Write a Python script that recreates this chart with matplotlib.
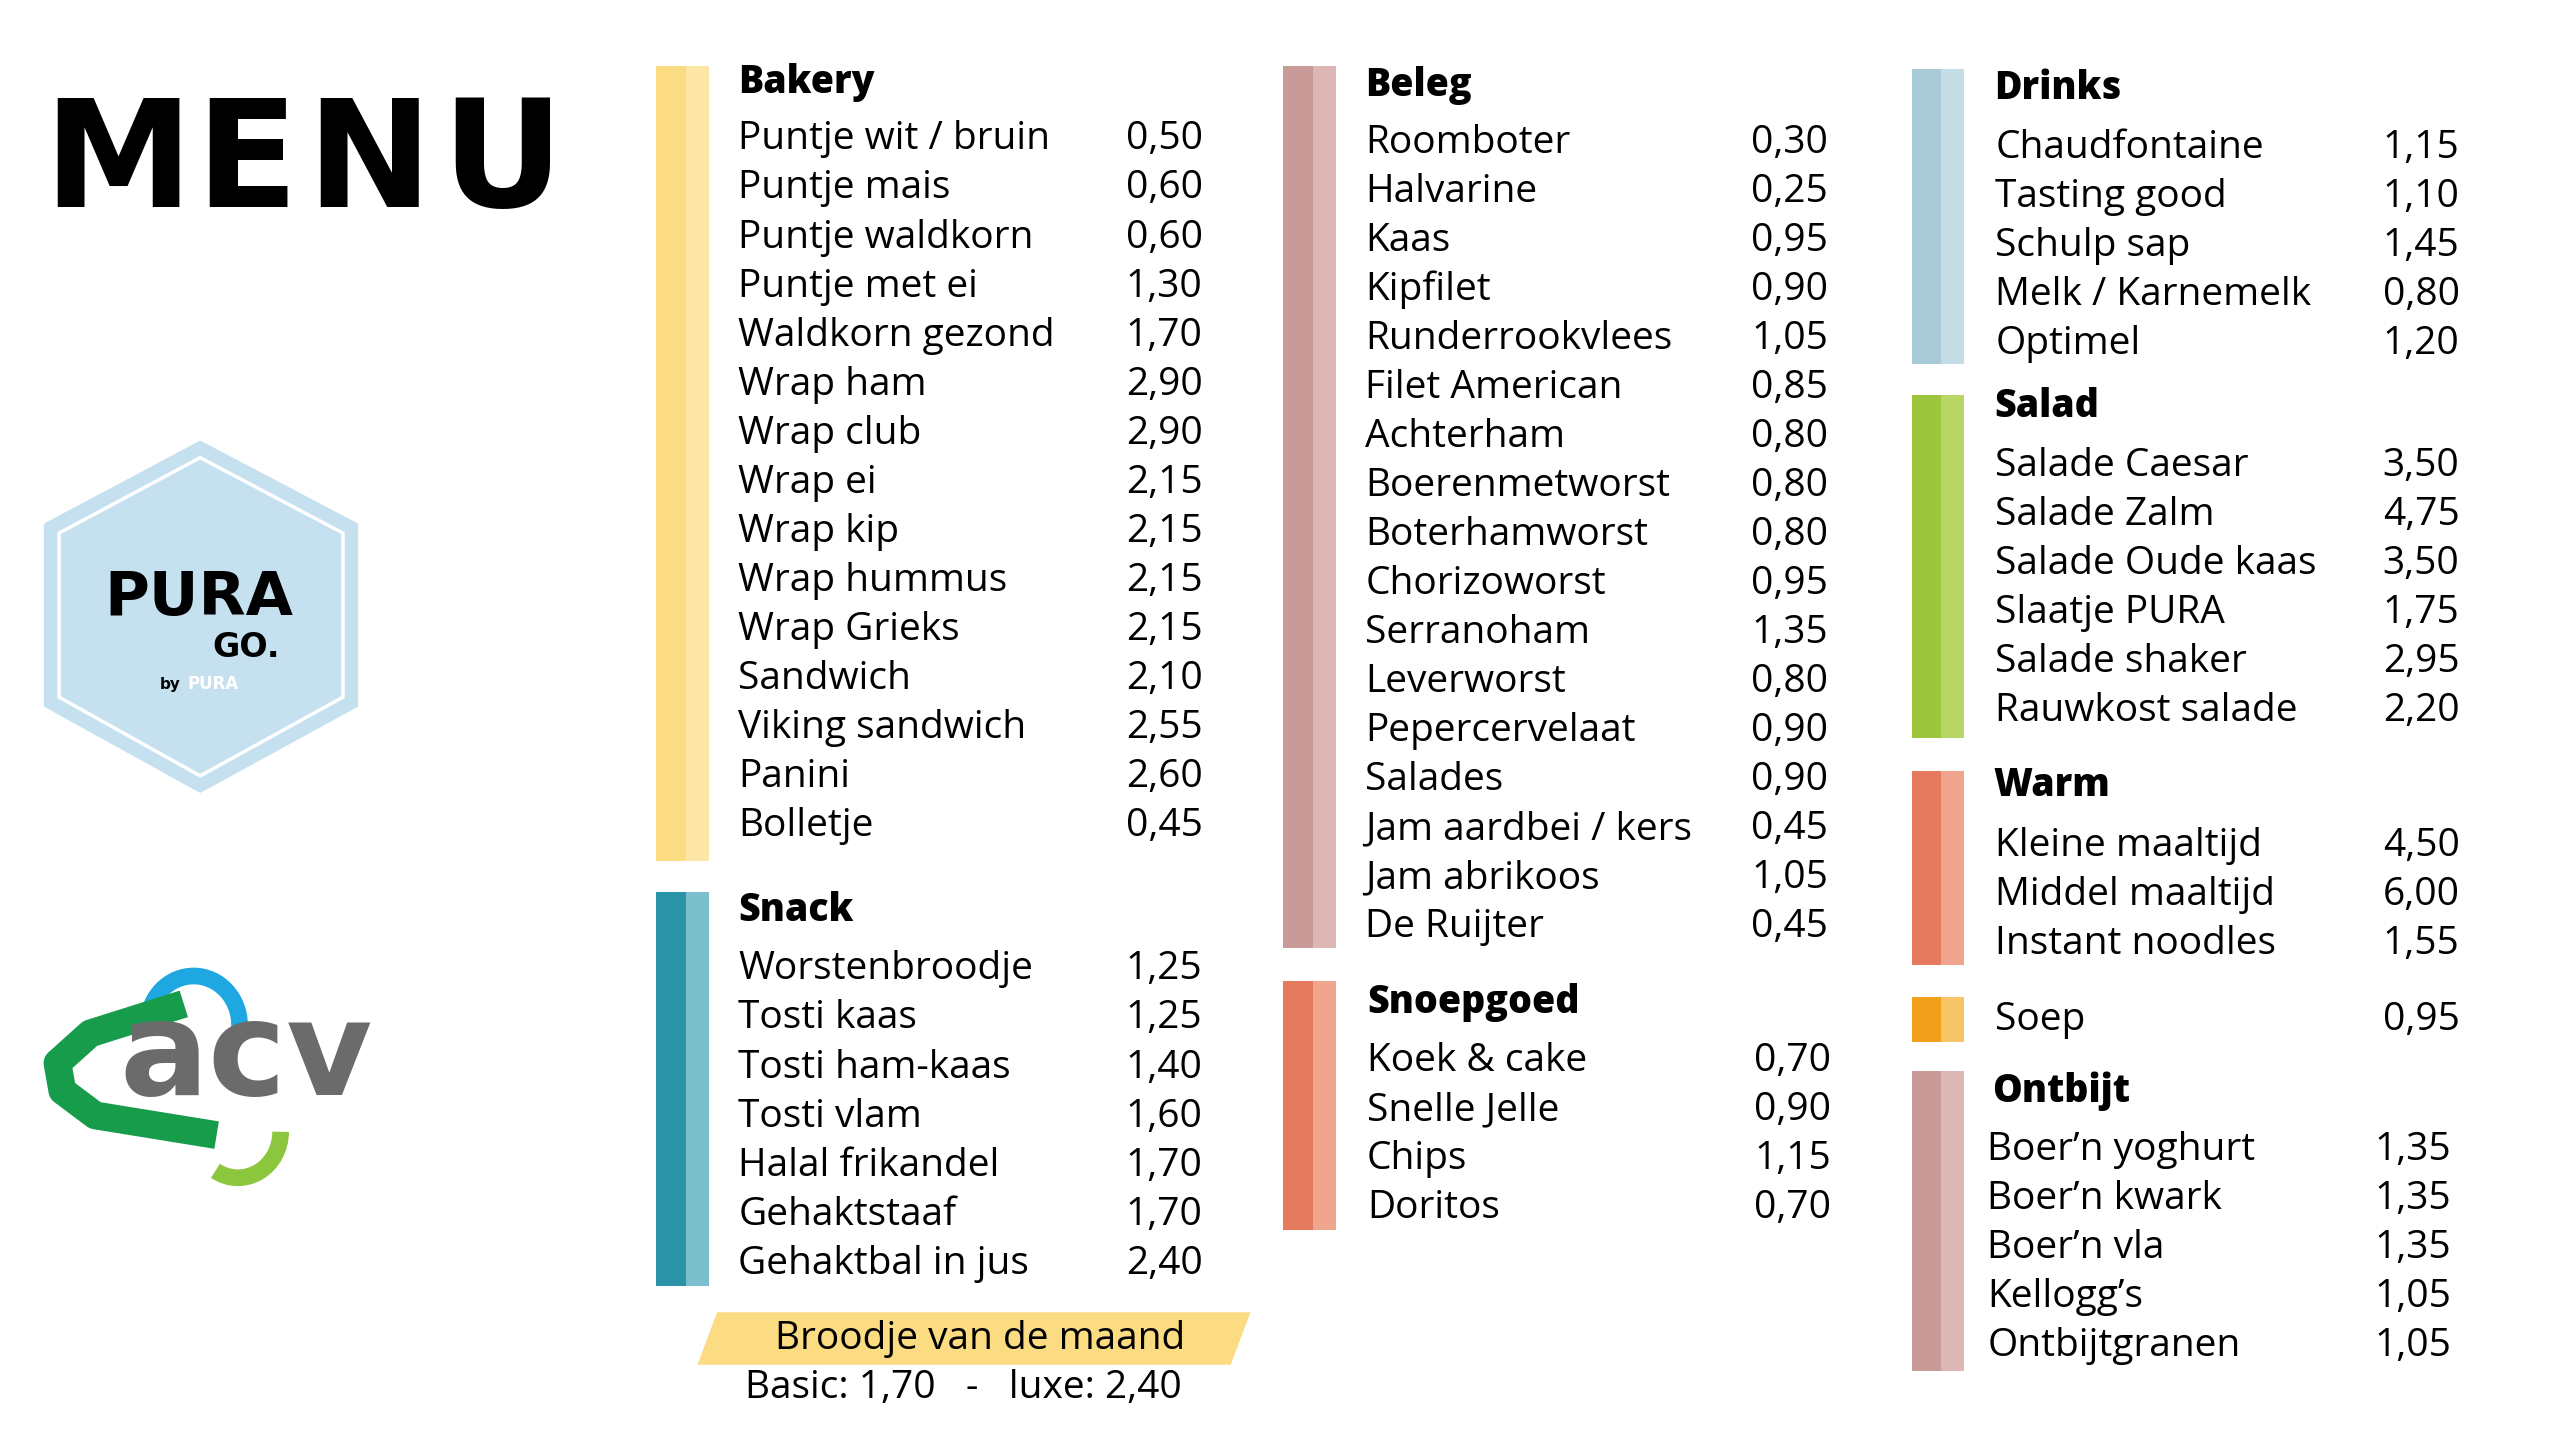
import matplotlib
matplotlib.use("Agg")
from matplotlib import pyplot as plt
from matplotlib.patches import Polygon, Rectangle, Arc

bakery_items = ["Puntje wit / bruin", "Puntje mais", "Puntje waldkorn", "Puntje met ei",
                "Waldkorn gezond", "Wrap ham", "Wrap club", "Wrap ei", "Wrap kip",
                "Wrap hummus", "Wrap Grieks", "Sandwich", "Viking sandwich", "Panini", "Bolletje"]
bakery_prices = ["0,50", "0,60", "0,60", "1,30", "1,70", "2,90", "2,90", "2,15", "2,15",
                 "2,15", "2,15", "2,10", "2,55", "2,60", "0,45"]
snack_items = ["Worstenbroodje", "Tosti kaas", "Tosti ham-kaas", "Tosti vlam",
               "Halal frikandel", "Gehaktstaaf", "Gehaktbal in jus"]
snack_prices = ["1,25", "1,25", "1,40", "1,60", "1,70", "1,70", "2,40"]
beleg_items = ["Roomboter", "Halvarine", "Kaas", "Kipfilet", "Runderrookvlees", "Filet American",
               "Achterham", "Boerenmetworst", "Boterhamworst", "Chorizoworst", "Serranoham",
               "Leverworst", "Pepercervelaat", "Salades", "Jam aardbei / kers", "Jam abrikoos",
               "De Ruijter"]
beleg_prices = ["0,30", "0,25", "0,95", "0,90", "1,05", "0,85", "0,80", "0,80", "0,80", "0,95",
                "1,35", "0,80", "0,90", "0,90", "0,45", "1,05", "0,45"]
snoep_items = ["Koek & cake", "Snelle Jelle", "Chips", "Doritos"]
snoep_prices = ["0,70", "0,90", "1,15", "0,70"]
drinks_items = ["Chaudfontaine", "Tasting good", "Schulp sap", "Melk / Karnemelk", "Optimel"]
drinks_prices = ["1,15", "1,10", "1,45", "0,80", "1,20"]
salad_items = ["Salade Caesar", "Salade Zalm", "Salade Oude kaas", "Slaatje PURA",
               "Salade shaker", "Rauwkost salade"]
salad_prices = ["3,50", "4,75", "3,50", "1,75", "2,95", "2,20"]
warm_items = ["Kleine maaltijd", "Middel maaltijd", "Instant noodles"]
warm_prices = ["4,50", "6,00", "1,55"]
soep_items = ["Soep"]
soep_prices = ["0,95"]
ontbijt_items = ["Boer\u2019n yoghurt", "Boer\u2019n kwark", "Boer\u2019n vla", "Kellogg\u2019s",
                 "Ontbijtgranen"]
ontbijt_prices = ["1,35", "1,35", "1,35", "1,05", "1,05"]

FONT = "Open Sans"
fig = plt.figure(figsize=(25.6, 14.32), dpi=100)
ax = fig.add_axes([0, 0, 1, 1])
ax.set_xlim(0, 1560)
ax.set_ylim(873, 0)
ax.axis("off")

STEP = 29.9
ITEM_FS = 28
HEAD_FS = 27


def bar(x, y0, y1, c1, c2):
    ax.add_patch(Rectangle((x, y0), 18, y1 - y0, color=c1, lw=0))
    ax.add_patch(Rectangle((x + 18, y0), 14, y1 - y0, color=c2, lw=0))


def section(title, hx, hy, items, prices, ix, px, iy):
    if title:
        ax.text(hx, hy, title, fontsize=HEAD_FS, fontweight="heavy", family=FONT,
                va="center", ha="left")
    for i, (n, p) in enumerate(zip(items, prices)):
        y = iy + i * STEP
        ax.text(ix, y, n, fontsize=ITEM_FS, family=FONT, va="center", ha="left")
        ax.text(px, y, p, fontsize=ITEM_FS, family=FONT, va="center", ha="left")


# colour bars
bar(400, 40, 525, "#fcdc82", "#fde6a6")
bar(400, 544, 784, "#2a93a8", "#7bbfcc")
bar(782, 40, 578, "#c89a98", "#dcb7b5")
bar(782, 598, 750, "#e57a5e", "#f0a68e")
bar(1165, 42, 222, "#a9cbd8", "#c3dce6")
bar(1165, 241, 450, "#9ec63c", "#b8d665")
bar(1165, 470, 588, "#e57a5e", "#f0a68e")
bar(1165, 608, 635, "#f2a01c", "#f7c466")
bar(1165, 653, 836, "#c89a98", "#dcb7b5")

section("Bakery", 450, 50, bakery_items, bakery_prices, 450, 686, 85)
section("Snack", 450, 555, snack_items, snack_prices, 450, 686, 591)
section("Beleg", 832, 52, beleg_items, beleg_prices, 832, 1067, 87)
section("Snoepgoed", 833, 611, snoep_items, snoep_prices, 833, 1069, 647)
section("Drinks", 1215, 54, drinks_items, drinks_prices, 1216, 1452, 90)
section("Salad", 1215, 248, salad_items, salad_prices, 1216, 1452, 284)
section("Warm", 1215, 479, warm_items, warm_prices, 1216, 1452, 516)
section(None, 0, 0, soep_items, soep_prices, 1216, 1452, 622)
section("Ontbijt", 1214, 665, ontbijt_items, ontbijt_prices, 1211, 1447, 701)

# broodje van de maand banner
ax.add_patch(Polygon([(437, 800), (762, 800), (750, 832), (425, 832)], color="#fcdc82", lw=0))
ax.text(597, 816, "Broodje van de maand", fontsize=ITEM_FS, family=FONT, ha="center", va="center")
ax.text(454, 846, "Basic: 1,70   -   luxe: 2,40", fontsize=ITEM_FS, family=FONT, ha="left", va="center")

# MENU title
for ch, x in zip("MENU", [72, 150, 225, 306]):
    ax.text(x, 101, ch, fontsize=108, fontweight="black", family="DejaVu Sans",
            ha="center", va="center")

# PURA GO hexagon logo
hex_pts = [(122, 270), (217, 320), (217, 430), (122, 482), (28, 430), (28, 320)]
ax.add_patch(Polygon(hex_pts, closed=True, fc="#c5e0ef", ec="#c5e0ef", lw=3, joinstyle="round"))
inner = [(122, 279), (209, 325), (209, 425), (122, 473), (36, 425), (36, 325)]
ax.add_patch(Polygon(inner, closed=True, fc="none", ec="white", lw=2.5, joinstyle="round"))
ax.text(121, 365, "PURA", fontsize=44, fontweight="bold", family="DejaVu Sans",
        ha="center", va="center")
ax.text(150, 395, "GO.", fontsize=24, fontweight="bold", family="DejaVu Sans",
        ha="center", va="center")
ax.text(104, 417, "by", fontsize=11, fontweight="bold", family="DejaVu Sans",
        ha="center", va="center")
ax.text(130, 417, "PURA", fontsize=12, fontweight="bold", family="DejaVu Sans",
        color="white", ha="center", va="center")

# ACV logo
ax.plot([112, 55, 35, 38, 58, 132], [612, 630, 648, 665, 680, 692], color="#169c4b",
        lw=20, solid_capstyle="butt", solid_joinstyle="round")
ax.add_patch(Arc((118, 625), 56, 60, theta1=195, theta2=10, color="#1ea7e1", lw=12))
ax.add_patch(Arc((145, 690), 52, 56, theta1=0, theta2=120, color="#8cc63f", lw=12))
ax.text(150, 645, "acv", fontsize=95, fontweight="bold", family="DejaVu Sans",
        color="#6b6b6b", ha="center", va="center")

fig.savefig("out.png", dpi=100)
